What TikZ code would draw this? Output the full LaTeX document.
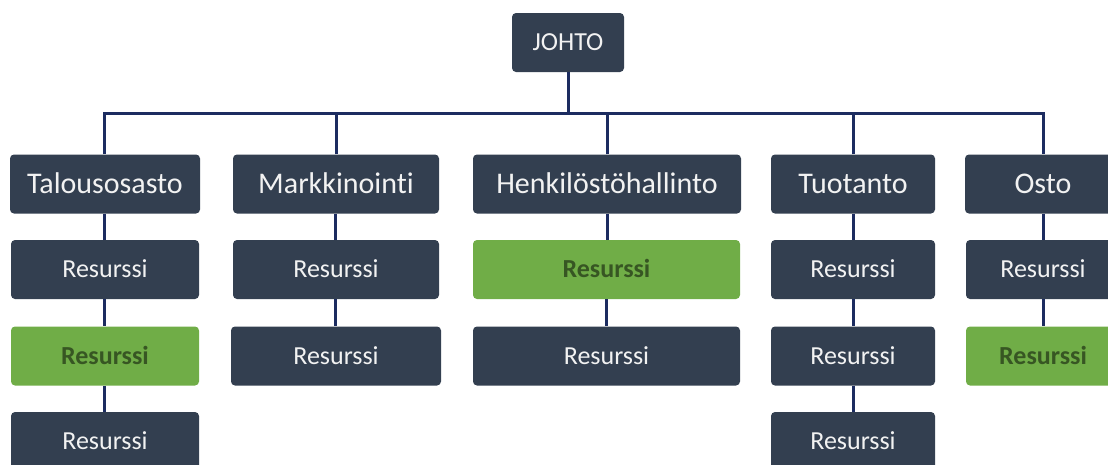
\documentclass[tikz,border=0pt]{standalone}
\usepackage{fontspec}
\setmainfont{Carlito}[Ligatures={NoCommon}]
\definecolor{boxdark}{HTML}{333F50}
\definecolor{boxgreen}{HTML}{70AD47}
\definecolor{greentext}{HTML}{375623}
\definecolor{linkcol}{HTML}{1C2C60}
\definecolor{lighttext}{HTML}{F2F2F2}
\tikzset{
  unit/.style={draw=none, rounded corners=4pt, inner sep=0pt, anchor=center},
  head/.style={unit, fill=boxdark, text=lighttext, minimum height=59pt,
    font=\fontsize{30}{32}\selectfont, text height=19.3pt, text depth=0pt},
  res/.style={unit, fill=boxdark, text=lighttext, minimum height=59pt,
    font=\fontsize{26}{28}\selectfont, text height=16.7pt, text depth=0pt},
  resg/.style={res, fill=boxgreen, text=greentext, font=\fontsize{26}{28}\selectfont\bfseries},
  link/.style={draw=linkcol, line width=3pt}
}
\begin{document}
\begin{tikzpicture}[x=1pt, y=-1pt]
\useasboundingbox (0,0) rectangle (1108,464);
\clip (0,0) rectangle (1108,464);

% top level
\node[res, minimum width=112pt] (johto) at (568,42.5) {JOHTO};
\coordinate (busy) at (0,113);

% departments
\node[head, minimum width=190pt] (d1) at (105,184) {Talousosasto};
\node[head, minimum width=206pt] (d2) at (336,184) {Markkinointi};
\node[head, minimum width=268pt] (d3) at (607,184) {Henkilöstöhallinto};
\node[head, minimum width=164pt] (d4) at (853,184) {Tuotanto};
\node[head, minimum width=156pt] (d5) at (1043,184) {Osto};

% resources, column 1
\node[res,  minimum width=188pt] (r11) at (105,269.5) {Resurssi};
\node[resg, minimum width=188pt] (r12) at (105,356) {Resurssi};
\node[res,  minimum width=188pt] (r13) at (105,441.5) {Resurssi};
% column 2
\node[res,  minimum width=206pt] (r21) at (336,269.5) {Resurssi};
\node[res,  minimum width=210pt] (r22) at (336,356) {Resurssi};
% column 3
\node[resg, minimum width=267pt] (r31) at (606.5,269.5) {Resurssi};
\node[res,  minimum width=267pt] (r32) at (606.5,356) {Resurssi};
% column 4
\node[res,  minimum width=164pt] (r41) at (853,269.5) {Resurssi};
\node[res,  minimum width=164pt] (r42) at (853,356) {Resurssi};
\node[res,  minimum width=164pt] (r43) at (853,441.5) {Resurssi};
% column 5
\node[res,  minimum width=154pt] (r51) at (1043,269.5) {Resurssi};
\node[resg, minimum width=154pt] (r52) at (1043,356) {Resurssi};

% bus from the top box to the departments
\draw[link] (johto.south) -- (johto.south |- busy);
\draw[link] ([xshift=-1pt]d1.north) -- ([xshift=-1pt]d1.north |- busy)
  -- (d5.north |- busy) -- (d5.north);
\foreach \d in {d2,d3,d4}
  \draw[link] (\d.north) -- (\d.north |- busy);

% department to resource chains
\draw[link] ([xshift=-1pt]d1.south) -- ([xshift=-1pt]r11.north);
\draw[link] ([xshift=-1pt]r11.south) -- ([xshift=-1pt]r12.north);
\draw[link] ([xshift=-1pt]r12.south) -- ([xshift=-1pt]r13.north);
\draw[link] ([xshift=-1pt]d2.south) -- ([xshift=-1pt]r21.north);
\draw[link] ([xshift=-1pt]r21.south) -- ([xshift=-1pt]r22.north);
\draw[link] (d3.south) -- (d3.south |- r31.north);
\draw[link] (r31.south) -- (r32.north);
\draw[link] (d4.south) -- (r41.north);
\draw[link] (r41.south) -- (r42.north);
\draw[link] (r42.south) -- (r43.north);
\draw[link] (d5.south) -- (r51.north);
\draw[link] (r51.south) -- (r52.north);
\end{tikzpicture}
\end{document}
